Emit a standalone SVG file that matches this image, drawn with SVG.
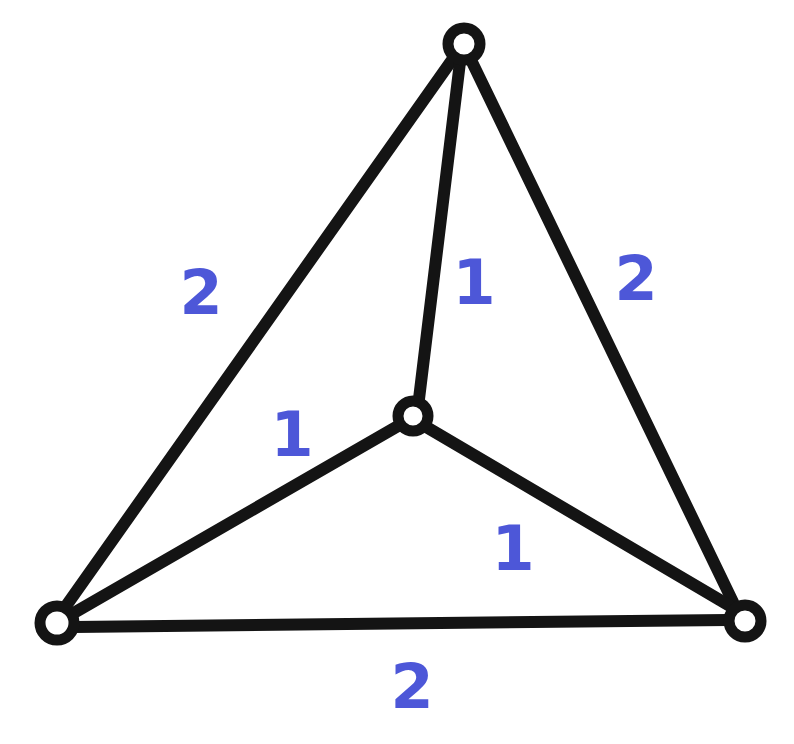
<svg xmlns="http://www.w3.org/2000/svg" width="794" height="744" viewBox="0 0 794 744">
<style>
.edge{stroke:#141414;stroke-width:12;stroke-linecap:round;fill:none}
.node{stroke:#141414;stroke-width:11;fill:#fff}
.lbl{font-family:"DejaVu Sans",sans-serif;font-weight:bold;font-size:62px;fill:#4d57d8;text-anchor:middle;dominant-baseline:central}
</style>
<rect width="794" height="744" fill="#fff"/>
<g id="connectors">
<path class="edge" d="M452 60 L66 606"/>
<path class="edge" d="M460 62 L419 399"/>
<path class="edge" d="M472 62 L733 602"/>
<path class="edge" d="M398 426 L72 614"/>
<path class="edge" d="M428 428 L730 606"/>
<path class="edge" d="M74 627 L728 620"/>
</g>
<g id="n-top"><circle class="node" cx="464" cy="44" r="16"/></g>
<g id="n-center"><circle class="node" cx="413" cy="416" r="15"/></g>
<g id="n-left"><circle class="node" cx="57" cy="623" r="17"/></g>
<g id="n-right"><circle class="node" cx="745" cy="621" r="16"/></g>
<g id="labels">
<text class="lbl" x="201" y="292">2</text>
<text class="lbl" x="474" y="282">1</text>
<text class="lbl" x="636" y="278">2</text>
<text class="lbl" x="292" y="434">1</text>
<text class="lbl" x="513" y="548">1</text>
<text class="lbl" x="412" y="686">2</text>
</g>
</svg>
